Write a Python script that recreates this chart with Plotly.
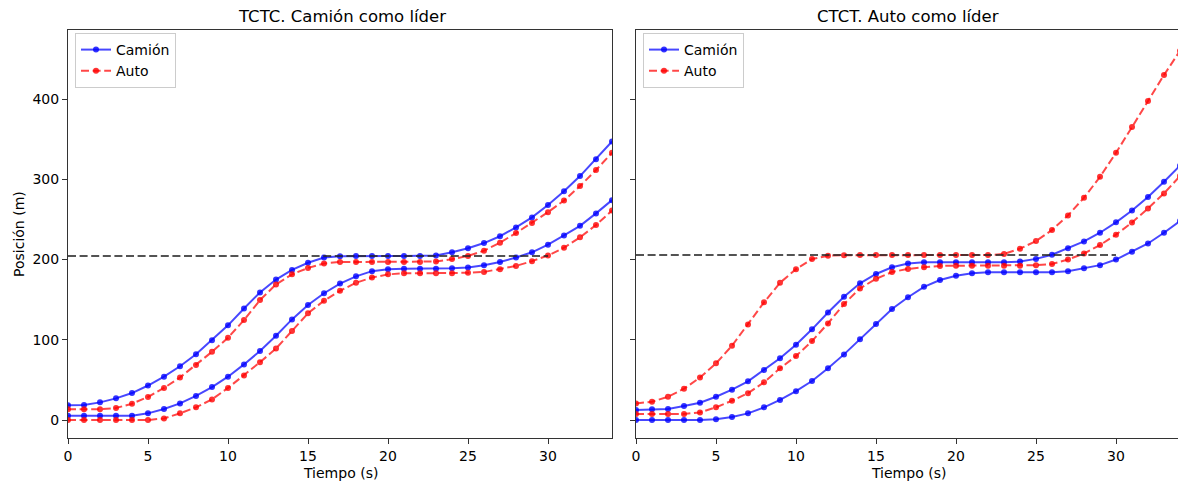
import plotly.graph_objects as go

# ---------------- data ----------------
t = list(range(35))

# Left panel: TCTC, truck leads
tctc_camion_1 = [18.3, 18.7, 22, 27, 33.6, 43, 54, 67, 82, 99.5, 118, 139, 159, 175, 187, 196, 202.5, 204,
                 204.4, 204.4, 204.4, 204.4, 204.4, 205, 209, 214, 220.5, 229, 240, 252.5, 268, 285, 304, 325, 347]
tctc_auto_1 = [13.3, 13.3, 13.3, 15, 20.3, 28.7, 40, 53, 68.5, 85, 102.6, 124.6, 149.5, 169, 181.5, 189.5, 195, 197,
               197, 197, 197, 197, 197, 197.5, 200.5, 204.5, 211, 221, 233, 245.5, 259, 273.5, 291.5, 311.5, 333]
tctc_camion_2 = [5.4, 5.4, 5.4, 5.4, 5.4, 8.3, 13.7, 20.7, 30, 41, 54, 69.3, 86, 105, 125.4, 143.3, 158, 170,
                 179, 185.5, 188, 188.6, 188.6, 188.6, 189, 190, 193, 197, 202.5, 209, 218.5, 230, 242, 257.5, 274]
tctc_auto_2 = [0, 0, 0, 0, 0, 0, 2, 8.3, 15.8, 25.7, 40, 55.6, 72, 89, 111, 133, 148.7, 161,
               171, 177.5, 181.5, 182.8, 182.8, 182.8, 183, 183.5, 184.5, 188, 192, 198, 205, 214.7, 227.6, 243, 261]

# Right panel: CTCT, car leads
ctct_auto_1 = [20.7, 22.8, 29, 39, 53, 70.6, 92.6, 119, 146.6, 171, 188, 200.6, 204.8, 205.3, 205.5, 205.5, 205.5, 205.5,
               205.5, 205.5, 205.5, 205.5, 205.5, 206.9, 213.5, 223, 236.8, 255, 277, 303, 333, 365, 397.5, 430, 460]
ctct_camion_1 = [12.5, 13.3, 13.7, 17.4, 21.6, 29, 37.8, 48.2, 62.3, 76.9, 93.9, 113, 134, 153.7, 170.3, 182, 190.3, 195,
                 196.5, 196.5, 196.5, 196.5, 196.5, 196.5, 197.5, 200.8, 206, 214, 222.5, 233.4, 246.3, 261, 278, 297, 317]
ctct_auto_2 = [7.5, 7.5, 7.5, 7.5, 9.5, 15.8, 24, 33.5, 47, 64.4, 79.7, 98.4, 120.4, 144.5, 164, 176, 184.4, 188.3,
               190.3, 192, 192.3, 192.3, 192.3, 192.3, 192.3, 193, 194.4, 200, 207.5, 218, 231, 246, 263.7, 282.4, 304]
ctct_camion_2 = [0, 0, 0, 0, 0, 1, 3.7, 8.3, 15.8, 25, 36, 48.6, 64.4, 81.8, 100.5, 119.6, 138.3, 153,
                 166, 174.4, 179.8, 182.8, 184, 184, 184, 184, 184, 185.5, 189, 193, 200, 209.7, 220, 233.4, 248]

stop_x = [0, 30]
stop_left = 204.4
stop_right = 205.5

titles = ["TCTC. Camión como líder", "CTCT. Auto como líder"]
xlabel = "Tiempo (s)"
ylabel = "Posición (m)"
xticks = [0, 5, 10, 15, 20, 25, 30]
yticks = [0, 100, 200, 300, 400]

# ---------------- styles ----------------
FONT = "DejaVu Sans"
BLUE_L = "rgba(0,0,255,0.72)"
BLUE_M = "rgba(0,0,255,0.8)"
RED_L = "rgba(255,0,0,0.72)"
RED_M = "rgba(255,0,0,0.8)"
DASH = "8px,3.6px"

fig = go.Figure()


def add_vehicle(y, kind, xa, ya, legend, show):
    if kind == "camion":
        line = dict(color=BLUE_L, width=2)
        marker = dict(color=BLUE_M, size=6)
        name = "Camión"
    else:
        line = dict(color=RED_L, width=2, dash=DASH)
        marker = dict(color=RED_M, size=6)
        name = "Auto"
    fig.add_trace(go.Scatter(x=t, y=y, mode="lines+markers", line=line, marker=marker,
                             name=name, xaxis=xa, yaxis=ya, legend=legend, showlegend=show))


# left panel
add_vehicle(tctc_camion_1, "camion", "x", "y", "legend", True)
add_vehicle(tctc_auto_1, "auto", "x", "y", "legend", True)
add_vehicle(tctc_camion_2, "camion", "x", "y", "legend", False)
add_vehicle(tctc_auto_2, "auto", "x", "y", "legend", False)
fig.add_trace(go.Scatter(x=stop_x, y=[stop_left, stop_left], mode="lines",
                         line=dict(color="rgba(40,40,40,0.8)", width=2, dash="8px,3.6px"),
                         xaxis="x", yaxis="y", showlegend=False))

# right panel
add_vehicle(ctct_camion_1, "camion", "x2", "y2", "legend2", True)
add_vehicle(ctct_auto_1, "auto", "x2", "y2", "legend2", True)
add_vehicle(ctct_camion_2, "camion", "x2", "y2", "legend2", False)
add_vehicle(ctct_auto_2, "auto", "x2", "y2", "legend2", False)
fig.add_trace(go.Scatter(x=stop_x, y=[stop_right, stop_right], mode="lines",
                         line=dict(color="rgba(40,40,40,0.8)", width=2, dash="8px,3.6px"),
                         xaxis="x2", yaxis="y2", showlegend=False))

W, H = 1178, 485
ML, MR, MT, MB = 68, 0, 30, 47
pw = W - ML - MR
ph = H - MT - MB


def px_x(p):
    return (p - ML) / pw


def px_y(p):
    return (H - MB - p) / ph


axis_common = dict(showgrid=False, zeroline=False, showline=True, mirror=True, linecolor="#333",
                   linewidth=1, ticks="outside", ticklen=5, tickwidth=1, tickcolor="#333",
                   tickfont=dict(family=FONT, size=14, color="black"))

legend_common = dict(xanchor="left", yanchor="top", bgcolor="rgba(255,255,255,0.8)",
                     bordercolor="#cccccc", borderwidth=1, font=dict(family=FONT, size=14),
                     tracegroupgap=0)

fig.update_layout(
    width=W, height=H,
    margin=dict(l=ML, r=MR, t=MT, b=MB),
    paper_bgcolor="white", plot_bgcolor="white",
    font=dict(family=FONT, size=14, color="black"),
    xaxis=dict(domain=[0, px_x(612)], range=[0, 34], tickvals=xticks, anchor="y", **axis_common),
    xaxis2=dict(domain=[px_x(636), 1], range=[0, 33.875], tickvals=xticks, anchor="y2", **axis_common),
    yaxis=dict(range=[-22.4, 486], tickvals=yticks, anchor="x", **axis_common),
    yaxis2=dict(range=[-22.4, 486], tickvals=yticks, anchor="x2", showticklabels=False, **axis_common),
    legend=dict(x=px_x(75), y=px_y(33), **legend_common),
    legend2=dict(x=px_x(643), y=px_y(33), **legend_common),
    showlegend=True,
)

annotations = [
    dict(text=titles[0], x=px_x(342), y=px_y(17), xref="paper", yref="paper", showarrow=False,
         font=dict(family=FONT, size=16.5), xanchor="center", yanchor="middle"),
    dict(text=titles[1], x=px_x(908), y=px_y(17), xref="paper", yref="paper", showarrow=False,
         font=dict(family=FONT, size=16.5), xanchor="center", yanchor="middle"),
    dict(text=xlabel, x=px_x(340), y=px_y(473), xref="paper", yref="paper", showarrow=False,
         font=dict(family=FONT, size=14), xanchor="center", yanchor="middle"),
    dict(text=xlabel, x=px_x(908), y=px_y(473), xref="paper", yref="paper", showarrow=False,
         font=dict(family=FONT, size=14), xanchor="center", yanchor="middle"),
    dict(text=ylabel, x=px_x(19), y=px_y(234), xref="paper", yref="paper", showarrow=False,
         font=dict(family=FONT, size=14), xanchor="center", yanchor="middle", textangle=-90),
]
fig.update_layout(annotations=annotations)

fig.write_html("out.html")
